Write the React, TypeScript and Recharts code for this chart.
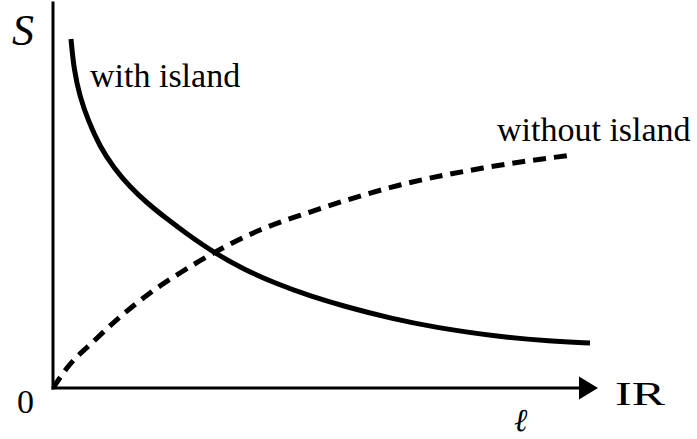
import React from "react";
import {
  LineChart,
  Line,
  XAxis,
  YAxis,
  ReferenceLine,
  ReferenceDot,
  Customized,
} from "recharts";

// curve samples (abstract units, axes 0..10)
const withIslandX = [0.33, 0.385, 0.495, 0.642, 0.862, 1.119, 1.413, 1.725, 2.092, 2.459, 2.936, 3.486, 4.11, 4.716, 5.321, 6.239, 6.972, 8.202, 9.119, 9.853];
const withIslandS = [9.065, 8.26, 7.558, 6.961, 6.26, 5.714, 5.221, 4.805, 4.39, 4.0, 3.532, 3.091, 2.701, 2.39, 2.13, 1.792, 1.584, 1.325, 1.221, 1.169];

const withoutIslandX = [0, 0.257, 0.771, 1.229, 1.78, 2.33, 2.881, 3.798, 4.716, 5.394, 6.367, 7.89, 9.523];
const withoutIslandS = [0, 0.519, 1.247, 1.844, 2.468, 2.987, 3.455, 4.104, 4.571, 4.883, 5.273, 5.714, 6.052];

const withIsland = withIslandX.map((x, i) => ({ x, s: withIslandS[i] }));
const withoutIsland = withoutIslandX.map((x, i) => ({ x, s: withoutIslandS[i] }));

const SERIF = "'Liberation Serif', 'Times New Roman', serif";

function ArrowHead({ cx, cy }: { cx?: number; cy?: number }) {
  if (cx == null || cy == null) return null;
  return <polygon points={`${cx},${cy} ${cx - 19},${cy - 11.5} ${cx - 19},${cy + 11.5}`} fill="#000" />;
}

function Labels() {
  return (
    <g fill="#000">
      <text x={12} y={45} fontFamily={SERIF} fontStyle="italic" fontSize={44}>S</text>
      <text x={90} y={87} fontFamily={SERIF} fontSize={34}>with island</text>
      <text x={497} y={141} fontFamily={SERIF} fontSize={34}>without island</text>
      <text x={17} y={413} fontFamily={SERIF} fontSize={34}>0</text>
      <text x={615} y={405} fontFamily={SERIF} fontSize={33} textLength={50} lengthAdjust="spacingAndGlyphs">IR</text>
      <text x={514} y={431} fontFamily="'DejaVu Serif', serif" fontStyle="italic" fontSize={32}>ℓ</text>
    </g>
  );
}

export default function App() {
  return (
    <div style={{ position: "absolute", left: 0, top: 0, width: 697, height: 439, background: "#fff" }}>
      <LineChart width={697} height={439} margin={{ top: 3, right: 99, bottom: 51, left: 53 }}>
        <XAxis type="number" dataKey="x" domain={[0, 10]} hide allowDataOverflow />
        <YAxis type="number" dataKey="s" domain={[0, 10]} hide allowDataOverflow />
        <ReferenceLine segment={[{ x: 0, y: 0 }, { x: 0, y: 10 }]} stroke="#000" strokeWidth={3} strokeLinecap="square" />
        <ReferenceLine segment={[{ x: 0, y: 0 }, { x: 9.75, y: 0 }]} stroke="#000" strokeWidth={3} strokeLinecap="square" />
        <ReferenceDot x={10} y={0} r={0} shape={<ArrowHead />} />
        <Line
          data={withIsland}
          dataKey="s"
          type="basis"
          stroke="#000"
          strokeWidth={5}
          dot={false}
          isAnimationActive={false}
        />
        <Line
          data={withoutIsland}
          dataKey="s"
          type="monotone"
          stroke="#000"
          strokeWidth={5}
          strokeDasharray="13 8"
          dot={false}
          isAnimationActive={false}
        />
        <Customized component={<Labels />} />
      </LineChart>
    </div>
  );
}
